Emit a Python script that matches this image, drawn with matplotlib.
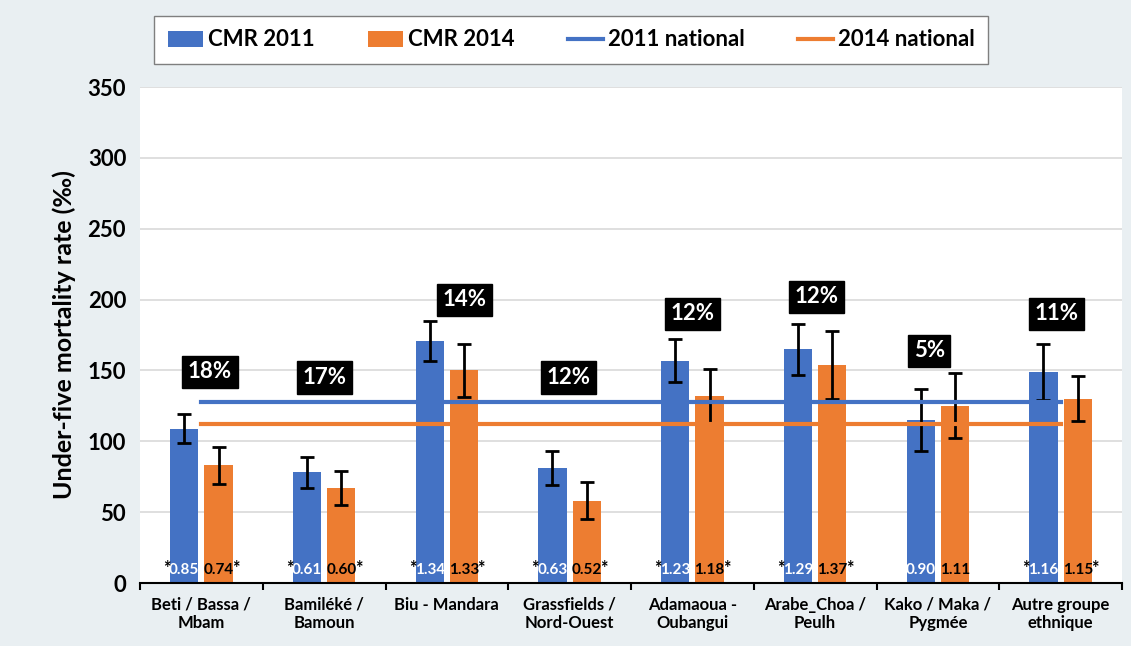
import numpy as np
import matplotlib
matplotlib.use('Agg')
import matplotlib.pyplot as plt

plt.rcParams['font.family'] = ['Lato', 'DejaVu Sans']
plt.rcParams['font.weight'] = 'bold'
plt.rcParams['axes.labelweight'] = 'bold'

# Data
groups = ['Beti / Bassa /\nMbam', 'Bamiléké /\nBamoun', 'Biu - Mandara',
          'Grassfields /\nNord-Ouest', 'Adamaoua -\nOubangui', 'Arabe_Choa /\nPeulh',
          'Kako / Maka /\nPygmée', 'Autre groupe\nethnique']
cmr2011 = [109, 78, 171, 81, 157, 165, 115, 149]
err2011 = [10, 11, 14, 12, 15, 18, 22, 20]
cmr2014 = [83, 67, 150, 58, 132, 154, 125, 130]
err2014 = [13, 12, 19, 13, 19, 24, 23, 16]
national2011 = 128
national2014 = 112.5
ratio2011 = ['0.85', '0.61', '1.34', '0.63', '1.23', '1.29', '0.90', '1.16']
ratio2014 = ['0.74', '0.60', '1.33', '0.52', '1.18', '1.37', '1.11', '1.15']
signif = [True, True, True, True, True, True, False, True]
pct_labels = ['18%', '17%', '14%', '12%', '12%', '12%', '5%', '11%']
pct_x = [0.07, 0.0, 0.14, -0.01, 0.0, 0.01, -0.07, -0.03]   # offset from group centre
pct_y = [149, 145, 200, 145, 190, 202, 164, 190]

blue = '#4472C4'
orange = '#ED7D31'
bg = '#E9EFF2'

fig = plt.figure(figsize=(11.31, 6.46), dpi=100, facecolor=bg)
ax = fig.add_axes([140 / 1131, 1 - 583 / 646, 982 / 1131, (583 - 87) / 646])
ax.set_facecolor('white')

x = np.arange(len(groups))
w = 0.23
off = 0.14
b1 = ax.bar(x - off, cmr2011, w, color=blue, label='CMR 2011', zorder=2)
b2 = ax.bar(x + off, cmr2014, w, color=orange, label='CMR 2014', zorder=2)
ax.errorbar(x - off, cmr2011, yerr=err2011, fmt='none', ecolor='black',
            elinewidth=2, capsize=5, capthick=2, zorder=3)
ax.errorbar(x + off, cmr2014, yerr=err2014, fmt='none', ecolor='black',
            elinewidth=2, capsize=5, capthick=2, zorder=3)

l1, = ax.plot([x[0], x[-1]], [national2011] * 2, color=blue, lw=3, label='2011 national', zorder=4)
l2, = ax.plot([x[0], x[-1]], [national2014] * 2, color=orange, lw=3, label='2014 national', zorder=4)

# ratios at the bottom of the bars
for i in range(len(groups)):
    ax.text(x[i] - off, 9, ratio2011[i], color='white', fontsize=11, fontweight='bold',
            ha='center', va='center', zorder=5)
    ax.text(x[i] + off, 9, ratio2014[i], color='black', fontsize=11, fontweight='bold',
            ha='center', va='center', zorder=5)
    if signif[i]:
        ax.text(x[i] - off - w / 2 + 0.005, 10, '*', color='black', fontsize=13, fontweight='bold',
                ha='right', va='center', zorder=5)
        ax.text(x[i] + off + w / 2 - 0.005, 10, '*', color='black', fontsize=13, fontweight='bold',
                ha='left', va='center', zorder=5)

# percentage boxes
for i, lab in enumerate(pct_labels):
    ax.text(x[i] + pct_x[i], pct_y[i], lab, color='white', fontsize=16, fontweight='bold',
            ha='center', va='center', zorder=6,
            bbox=dict(boxstyle='square,pad=0.25', fc='black', ec='black'))

ax.set_xlim(-0.5, len(groups) - 0.5)
ax.set_ylim(0, 350)
ax.set_yticks(np.arange(0, 351, 50))
ax.set_yticklabels([str(v) for v in range(0, 351, 50)], fontsize=16, fontweight='bold')
ax.tick_params(axis='y', length=0, pad=10)
ax.set_xticks(np.arange(-0.5, len(groups), 1.0), minor=False)
ax.set_xticklabels([])
ax.set_xticks(x, minor=True)
ax.set_xticklabels(groups, minor=True, fontsize=12, fontweight='bold')
ax.tick_params(axis='x', which='minor', length=0, pad=10)
ax.tick_params(axis='x', which='major', length=5, width=1.5, direction='out', color='black')
ax.grid(axis='y', color='#D9D9D9', lw=1.2, zorder=0)
for s in ['top', 'right', 'left']:
    ax.spines[s].set_visible(False)
ax.spines['bottom'].set_linewidth(1.5)
ax.set_ylabel('Under-five mortality rate (‰)', fontsize=18, fontweight='bold', labelpad=8)

fig.legend([b1, b2, l1, l2], ['CMR 2011', 'CMR 2014', '2011 national', '2014 national'],
           loc='center', bbox_to_anchor=(571 / 1131, 1 - 40 / 646), ncol=4,
           prop={'size': 16, 'weight': 'bold'},
           frameon=True, fancybox=False, edgecolor='#7F7F7F', framealpha=1,
           handlelength=1.6, columnspacing=2.4, handletextpad=0.2, borderpad=0.6,
           borderaxespad=0)

fig.savefig('out.png', dpi=100, facecolor=bg)
